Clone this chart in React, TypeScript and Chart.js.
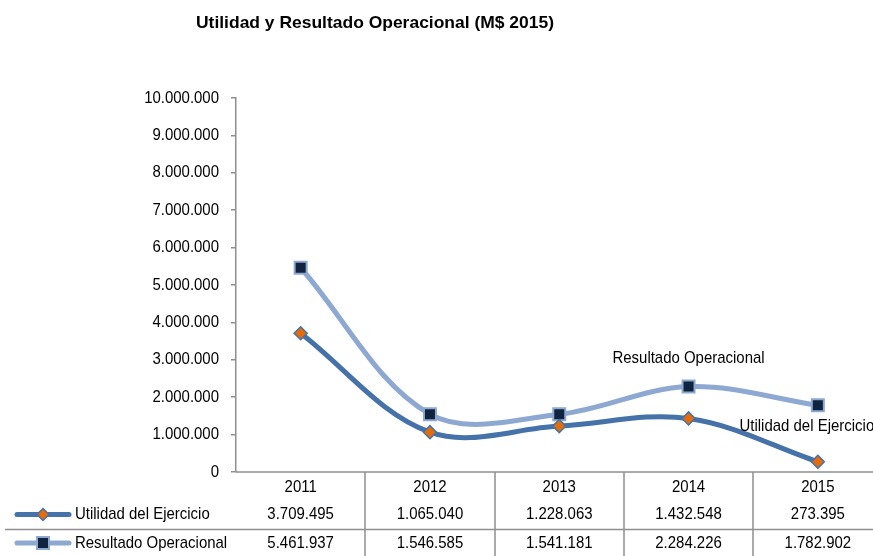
import React, { useEffect, useRef } from "react";
import { Chart, registerables } from "chart.js";
Chart.register(...registerables);

const chartTitle = "Utilidad y Resultado Operacional (M$ 2015)";
const years = ["2011", "2012", "2013", "2014", "2015"];
const seriesNames = ["Utilidad del Ejercicio", "Resultado Operacional"];
const utilidad = [3709495, 1065040, 1228063, 1432548, 273395];
const resultado = [5461937, 1546585, 1541181, 2284226, 1782902];
const yMin = 0;
const yMax = 10000000;
const yStep = 1000000;
// index of the point each series' inline label is attached to
const labelPointIndex = [4, 3];

const FONT = '"Liberation Sans", Arial, sans-serif';
const C_UTIL = "#4472A9";
const C_UTIL_PT = "#E46C0A";
const C_RES = "#8EA9D1";
const C_RES_PT = "#10243F";
const C_GRID = "#8f8f8f";
const TXT_SIZE = 17;
const TXT_SX = 0.88;
// canvas is wider than the visible window; the plot runs past its right edge
const CANVAS_W = 893;

const fmt = (v: number) =>
  Math.round(v)
    .toString()
    .replace(/\B(?=(\d{3})+(?!\d))/g, ".");

function drawText(
  ctx: CanvasRenderingContext2D,
  text: string,
  x: number,
  y: number,
  align: CanvasTextAlign,
  opts: { size?: number; bold?: boolean; sx?: number } = {}
) {
  const size = opts.size ?? TXT_SIZE;
  const sx = opts.sx ?? TXT_SX;
  ctx.save();
  ctx.font = `${opts.bold ? "bold " : ""}${size}px ${FONT}`;
  ctx.fillStyle = "#000";
  ctx.textBaseline = "middle";
  ctx.textAlign = align;
  ctx.translate(x, y);
  ctx.scale(sx, 1);
  ctx.fillText(text, 0, 0);
  ctx.restore();
}

const tablePlugin = {
  id: "tablePlugin",
  afterDraw(chart: any) {
    const ctx = chart.ctx as CanvasRenderingContext2D;
    const ca = chart.chartArea;
    const xs = chart.scales.x;
    const ys = chart.scales.y;
    ctx.save();

    // title
    ctx.font = `bold 17px ${FONT}`;
    const tw = ctx.measureText(chartTitle).width;
    drawText(ctx, chartTitle, 375, 23, "center", { size: 17, bold: true, sx: 358 / tw });

    // y tick labels
    ys.ticks.forEach((t: any) => {
      drawText(ctx, fmt(t.value), 219, ys.getPixelForValue(t.value), "right");
    });

    // x axis line
    ctx.strokeStyle = C_GRID;
    ctx.lineWidth = 1.5;
    ctx.beginPath();
    ctx.moveTo(ca.left, ca.bottom);
    ctx.lineTo(ca.right, ca.bottom);
    ctx.stroke();

    // table grid
    const colW = (ca.right - ca.left) / years.length;
    const bottom = chart.height;
    ctx.beginPath();
    for (let i = 1; i <= years.length; i++) {
      const x = Math.round(ca.left + i * colW);
      ctx.moveTo(x, ca.bottom);
      ctx.lineTo(x, bottom);
    }
    const rowSep = ca.bottom + 57.5;
    ctx.moveTo(5, rowSep);
    ctx.lineTo(ca.right, rowSep);
    ctx.stroke();

    // header
    const headerY = ca.bottom + 15;
    years.forEach((y, i) => drawText(ctx, y, xs.getPixelForValue(i), headerY, "center"));

    const rows = [utilidad, resultado];
    const rowY = [ca.bottom + 42.5, ca.bottom + 71];
    rows.forEach((vals, r) => {
      const y = rowY[r];
      vals.forEach((v, i) => {
        drawText(ctx, fmt(v), xs.getPixelForValue(i), y, "center");
      });
      // legend key
      const color = r === 0 ? C_UTIL : C_RES;
      ctx.strokeStyle = color;
      ctx.lineWidth = 5;
      ctx.lineCap = "round";
      ctx.beginPath();
      ctx.moveTo(17, y);
      ctx.lineTo(69, y);
      ctx.stroke();
      ctx.lineCap = "butt";
      if (r === 0) {
        ctx.fillStyle = C_UTIL_PT;
        ctx.strokeStyle = C_UTIL;
        ctx.lineWidth = 1.5;
        ctx.beginPath();
        ctx.moveTo(43, y - 6);
        ctx.lineTo(49, y);
        ctx.lineTo(43, y + 6);
        ctx.lineTo(37, y);
        ctx.closePath();
        ctx.fill();
        ctx.stroke();
      } else {
        ctx.fillStyle = C_RES_PT;
        ctx.strokeStyle = C_RES;
        ctx.lineWidth = 2;
        ctx.fillRect(37, y - 6, 12, 12);
        ctx.strokeRect(37, y - 6, 12, 12);
      }
      drawText(ctx, seriesNames[r], 75, y, "left");
    });

    // inline series labels
    const offs = [
      { dx: -11, dy: -35 },
      { dx: 0, dy: -28 },
    ];
    [0, 1].forEach((d) => {
      const pt = chart.getDatasetMeta(d).data[labelPointIndex[d]];
      drawText(ctx, seriesNames[d], pt.x + offs[d].dx, pt.y + offs[d].dy, "center");
    });

    ctx.restore();
  },
};

export default function App() {
  const ref = useRef<HTMLCanvasElement | null>(null);
  useEffect(() => {
    if (!ref.current) return;
    const chart = new Chart(ref.current, {
      type: "line",
      data: {
        labels: years,
        datasets: [
          {
            label: seriesNames[0],
            data: utilidad,
            borderColor: C_UTIL,
            borderWidth: 5,
            tension: 0.35,
            pointStyle: "rectRot",
            pointRadius: 6.5,
            pointBackgroundColor: C_UTIL_PT,
            pointBorderColor: C_UTIL,
            pointBorderWidth: 1.5,
          },
          {
            label: seriesNames[1],
            data: resultado,
            borderColor: C_RES,
            borderWidth: 5,
            tension: 0.35,
            pointStyle: "rect",
            pointRadius: 8.5,
            pointBackgroundColor: C_RES_PT,
            pointBorderColor: C_RES,
            pointBorderWidth: 2,
          },
        ],
      },
      options: {
        responsive: false,
        animation: false,
        devicePixelRatio: 1,
        layout: { padding: { left: 0, right: 0, top: 98, bottom: 84 } },
        plugins: {
          legend: { display: false },
          tooltip: { enabled: false },
          title: { display: false },
        },
        scales: {
          x: { type: "category", display: false, offset: true },
          y: {
            min: yMin,
            max: yMax,
            ticks: {
              stepSize: yStep,
              callback: (v: any) => fmt(Number(v)),
              font: { family: FONT, size: 15 },
              color: "rgba(0,0,0,0)",
              padding: 12,
            },
            grid: {
              drawOnChartArea: false,
              drawTicks: true,
              tickLength: 5,
              color: C_GRID,
              lineWidth: 1.5,
            },
            border: { display: true, color: C_GRID, width: 1.5 },
            afterFit: (s: any) => {
              s.width = 236;
            },
          },
        },
      },
      plugins: [tablePlugin],
    });
    return () => chart.destroy();
  }, []);
  return (
    <div
      style={{
        position: "absolute",
        left: 0,
        top: 0,
        width: 873,
        height: 556,
        overflow: "hidden",
        background: "#fff",
      }}
    >
      <div style={{ width: CANVAS_W, height: 556 }}>
        <canvas
          ref={ref}
          width={CANVAS_W}
          height={556}
          style={{ display: "block", width: CANVAS_W, height: 556 }}
        />
      </div>
    </div>
  );
}
